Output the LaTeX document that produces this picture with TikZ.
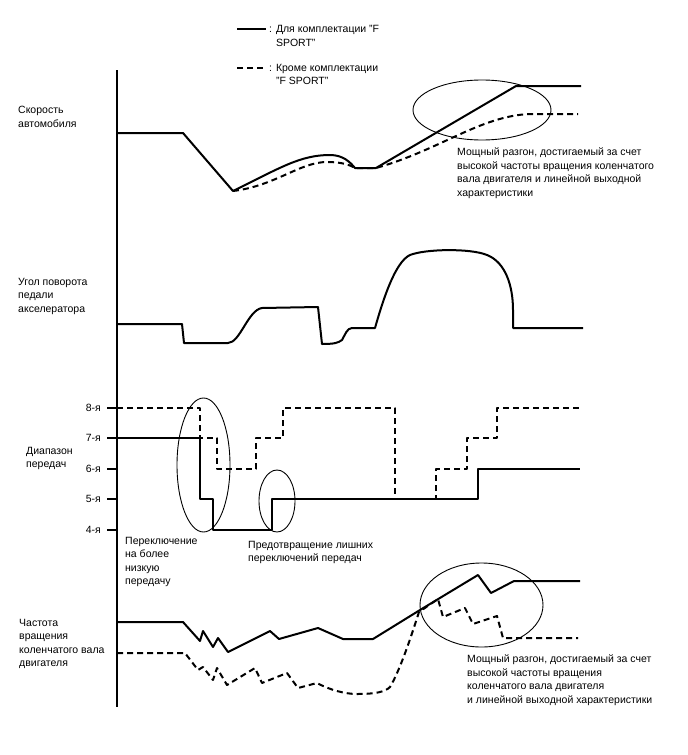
\documentclass[tikz,border=0pt]{standalone}
\usepackage{fontspec}
\setmainfont{Liberation Sans}
\begin{document}
\begin{tikzpicture}[x=1pt,y=-1pt,
  curve/.style={line width=2pt,line join=round},
  alt/.style={curve,dash pattern=on 6pt off 4pt},
  ring/.style={line width=0.9pt},
  axisline/.style={line width=2pt},
  lbl/.style={font=\fontsize{10.5}{13.5}\selectfont,align=left,inner sep=0pt},
  tick/.style={font=\fontsize{10.5}{13.5}\selectfont,inner sep=0pt,anchor=east}]
\useasboundingbox[fill=white] (0,0) rectangle (688,755);

% legend
\coordinate (ls1) at (237,29); \coordinate (le1) at (266,29);
\draw[curve] (ls1) -- (le1);
\node[lbl,anchor=west] (leg1) at (269,36) {: Для комплектации "F\\\hphantom{: }SPORT"};
\coordinate (ls2) at (237,68); \coordinate (le2) at (266,68);
\draw[alt] (ls2) -- (le2);
\node[lbl,anchor=west] (leg2) at (269,74.5) {: Кроме комплектации\\\hphantom{: }"F SPORT"};

% axis
\coordinate (atop) at (117,70); \coordinate (abot) at (117,707);
\draw[axisline] (atop) -- (abot);

% left labels
\node[lbl,anchor=west] (lspeed) at (18,117) {Скорость\\автомобиля};
\node[lbl,anchor=west] (lpedal) at (18,296) {Угол поворота\\педали\\акселератора};
\node[lbl,anchor=west] (lgear) at (26,458.5) {Диапазон\\передач};
\node[lbl,anchor=west] (lrpm) at (19,644) {Частота\\вращения\\коленчатого вала\\двигателя};

% ---- speed
\draw[curve] (117,133) -- (183,133) -- (233,191)
  .. controls (280,168) and (300,155) .. (330,155)
  .. controls (343,155) and (350,162) .. (355,168) -- (376,168) -- (516,86) -- (581,86);
\draw[alt] (233,191) .. controls (275,186) and (300,162) .. (327,162)
  .. controls (342,162) and (350,165) .. (355,168) -- (376,168)
  .. controls (440,150) and (480,116) .. (530,114) -- (578,114);
\draw[ring] (482,110) ellipse [x radius=69,y radius=30];
\node[lbl,anchor=west] (tspeed) at (457,173) {Мощный разгон, достигаемый за счет\\высокой частоты вращения коленчатого\\вала двигателя и линейной выходной\\характеристики};

% ---- pedal
\draw[curve] (117,324) -- (182,324) -- (184,343) -- (228,343)
  .. controls (240,343) and (248,310) .. (262,308) -- (318,307) -- (322,344)
  .. controls (334,344) and (338,343) .. (342,340)
  .. controls (345,335) and (347,328) .. (352,328) -- (375,328)
  .. controls (383,300) and (395,262) .. (410,255)
  .. controls (425,249) and (470,248) .. (487,255)
  .. controls (505,262) and (513,285) .. (513,310) -- (513,328) -- (583,328);

% ---- gear
\foreach \g/\yy in {8/408,7/438,6/469,5/499,4/530}{
  \draw[axisline] (107,\yy) -- (117,\yy);
  \node[tick] (g\g) at (101,\yy) {\g-я};
}
\draw[curve] (117,438) -- (200,438) -- (200,499) -- (213,499) -- (213,530) -- (272,530)
  -- (272,499) -- (478,499) -- (478,469) -- (580,469);
\draw[alt] (117,408) -- (200,408) -- (200,438) -- (217,438) -- (217,469) -- (256,469)
  -- (256,438) -- (283,438) -- (283,408) -- (395,408) -- (395,499) -- (436,499)
  -- (436,469) -- (467,469) -- (467,438) -- (497,438) -- (497,408) -- (580,408);
\draw[ring] (203.5,465) ellipse [x radius=26.5,y radius=67];
\draw[ring] (277,501) ellipse [x radius=18,y radius=31];
\node[lbl,anchor=west] (tdown) at (125,562) {Переключение\\на более\\низкую\\передачу};
\node[lbl,anchor=west] (tprev) at (248,552.5) {Предотвращение лишних\\переключений передач};

% ---- rpm
\draw[curve] (117,622) -- (183,622) -- (200,641) -- (203,631) -- (213,647) -- (218,638)
  -- (228,652) -- (270,631) -- (279,639) -- (318,628) -- (343,639) -- (373,639)
  -- (420,610) -- (478,575) -- (491,593) -- (514,581) -- (580,581);
\draw[alt] (117,653) -- (185,653) -- (198,670) -- (203,667) -- (213,680) -- (217,668)
  -- (227,685) -- (255,668) -- (262,683) -- (287,673) -- (298,688) -- (317,683)
  .. controls (330,690) and (345,694) .. (357,694)
  .. controls (375,694) and (385,692) .. (390,687)
  .. controls (400,670) and (410,640) .. (419,612) -- (438,599) -- (443,617) -- (465,608)
  -- (473,624) -- (497,616) -- (503,638) -- (578,638);
\draw[ring] (481.5,605) ellipse [x radius=61.5,y radius=42];
\node[lbl,anchor=west] (trpm) at (467,680) {Мощный разгон, достигаемый за счет\\высокой частоты вращения\\коленчатого вала двигателя\\и линейной выходной характеристики};
\end{tikzpicture}
\end{document}
